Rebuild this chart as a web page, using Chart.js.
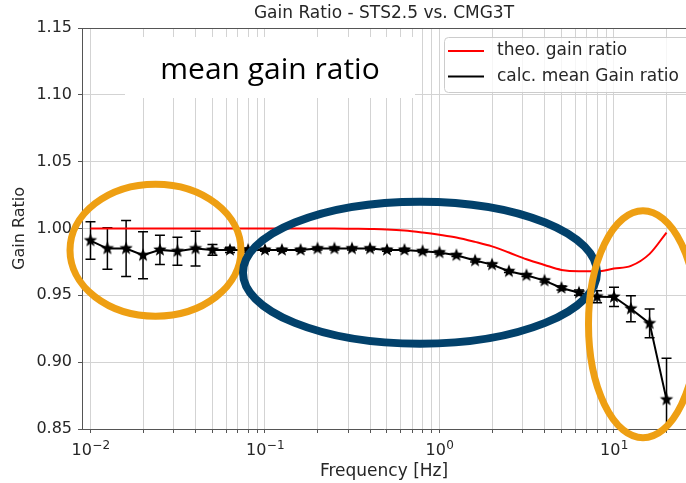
<!DOCTYPE html>
<html>
<head>
<meta charset="utf-8">
<script src="https://cdn.jsdelivr.net/npm/chart.js@4.4.1/dist/chart.umd.min.js"></script>
<style>
  html, body { margin: 0; padding: 0; background: #fff; }
  canvas { display: block; }
</style>
</head>
<body>
<canvas id="gainChart" width="686" height="483" style="width:686px;height:483px;"></canvas>
<script>
// third-octave centre frequencies [Hz]
var freqs = [0.01, 0.0125, 0.016, 0.02, 0.025, 0.0315, 0.04, 0.05, 0.063, 0.08,
             0.1, 0.125, 0.16, 0.2, 0.25, 0.315, 0.4, 0.5, 0.63, 0.8,
             1, 1.25, 1.6, 2, 2.5, 3.15, 4, 5, 6.3, 8,
             10, 12.5, 16, 20];

// theoretical STS2.5 / CMG3T gain ratio
var theoGain = [1.000, 1.000, 1.000, 1.000, 1.000, 1.000, 1.000, 1.000, 1.000, 1.000,
                1.000, 1.000, 1.000, 1.000, 1.000, 0.9998, 0.9996, 0.9993, 0.9985, 0.997,
                0.9953, 0.9933, 0.990, 0.9866, 0.982, 0.977, 0.9727, 0.969, 0.968, 0.968,
                0.970, 0.972, 0.981, 0.997];

// calculated mean gain ratio and its spread
var meanGain = [0.991, 0.985, 0.985, 0.980, 0.984, 0.983, 0.985, 0.984, 0.984, 0.984,
                0.984, 0.984, 0.984, 0.985, 0.985, 0.985, 0.985, 0.984, 0.984, 0.983,
                0.982, 0.980, 0.976, 0.973, 0.968, 0.965, 0.961, 0.9555, 0.952, 0.949,
                0.9488, 0.940, 0.929, 0.872];
var meanGainErr = [0.014, 0.0155, 0.021, 0.0175, 0.011, 0.0105, 0.013, 0.004, 0.002, 0.0015,
                   0.001, 0.001, 0.001, 0.001, 0.001, 0.001, 0.001, 0.001, 0.001, 0.001,
                   0.001, 0.001, 0.001, 0.001, 0.001, 0.001, 0.001, 0.0015, 0.002, 0.0045,
                   0.0072, 0.0097, 0.0107, 0.031];

var yTicks = [0.85, 0.90, 0.95, 1.00, 1.05, 1.10, 1.15];
var xDecades = [0.01, 0.1, 1, 10];
var decadeExps = ['\u22122', '\u22121', '0', '1'];

// highlighted frequency bands, in data units (freq range, gain range)
var highlights = [
  { f: [0.00763, 0.07286], g: [0.9344, 1.0331], color: '#EE9F13', width: 7 },
  { f: [0.0748, 7.99], g: [0.9138, 1.0201], color: '#02416B', width: 8 },
  { f: [7.143, 30.09], g: [0.8435, 1.0133], color: '#EE9F13', width: 7 }
];

// every 1..9 x 10^n inside the axis range
var xGridTicks = [];
xDecades.forEach(function (d) {
  for (var k = 1; k <= 9; k++) {
    var v = +(k * d).toPrecision(3);
    if (v <= 25.8) xGridTicks.push(v);
  }
});

// filled five-point star marker
function makeStar(r) {
  var c = document.createElement('canvas');
  var s = Math.ceil(r * 2 + 2);
  c.width = s; c.height = s;
  var g = c.getContext('2d');
  g.translate(s / 2, s / 2);
  g.beginPath();
  for (var i = 0; i < 10; i++) {
    var rad = i % 2 === 0 ? r : r * 0.42;
    var a = -Math.PI / 2 + i * Math.PI / 5;
    g.lineTo(rad * Math.cos(a), rad * Math.sin(a));
  }
  g.closePath();
  g.fillStyle = '#000';
  g.fill();
  return c;
}
var star = makeStar(7);

var FONT = 'DejaVu Sans';
var TXT = '#262626';

var decor = {
  id: 'decor',
  beforeDatasetsDraw: function (chart) {
    var ctx = chart.ctx, a = chart.chartArea;
    var xs = chart.scales.x, ys = chart.scales.y;
    ctx.save();
    // top spine
    ctx.strokeStyle = '#555';
    ctx.lineWidth = 1;
    ctx.beginPath();
    ctx.moveTo(a.left, a.top + 0.5);
    ctx.lineTo(a.right, a.top + 0.5);
    ctx.stroke();

    // decade labels as 10^n
    ctx.fillStyle = TXT;
    ctx.textBaseline = 'alphabetic';
    ctx.textAlign = 'left';
    xDecades.forEach(function (d, i) {
      var x = xs.getPixelForValue(d);
      ctx.font = '16px "' + FONT + '"';
      var w1 = ctx.measureText('10').width;
      ctx.font = '12px "' + FONT + '"';
      var w2 = ctx.measureText(decadeExps[i]).width;
      var x0 = x - (w1 + w2) / 2;
      ctx.font = '16px "' + FONT + '"';
      ctx.fillText('10', x0, a.bottom + 26);
      ctx.font = '12px "' + FONT + '"';
      ctx.fillText(decadeExps[i], x0 + w1 + 0.5, a.bottom + 19.5);
    });

    // text box
    ctx.fillStyle = '#fff';
    ctx.fillRect(a.left + 43, a.top + 9, 290, 61);
    ctx.fillStyle = '#000';
    ctx.font = '30px "Open Sans"';
    ctx.textAlign = 'center';
    ctx.fillText('mean gain ratio', a.left + 188, a.top + 51);

    // error bars
    ctx.beginPath();
    ctx.rect(a.left, a.top, a.right - a.left, a.bottom - a.top);
    ctx.clip();
    ctx.strokeStyle = '#000';
    ctx.lineWidth = 1.5;
    freqs.forEach(function (f, i) {
      var x = xs.getPixelForValue(f);
      var y1 = ys.getPixelForValue(meanGain[i] + meanGainErr[i]);
      var y2 = ys.getPixelForValue(meanGain[i] - meanGainErr[i]);
      ctx.beginPath();
      ctx.moveTo(x, y1); ctx.lineTo(x, y2);
      ctx.moveTo(x - 5, y1); ctx.lineTo(x + 5, y1);
      ctx.moveTo(x - 5, y2); ctx.lineTo(x + 5, y2);
      ctx.stroke();
    });
    ctx.restore();
  },
  afterDraw: function (chart) {
    var ctx = chart.ctx, a = chart.chartArea;
    var xs = chart.scales.x, ys = chart.scales.y;
    ctx.save();

    // legend
    var lx = a.left + 362, ly = a.top + 9;
    ctx.beginPath();
    ctx.roundRect(lx + 0.5, ly + 0.5, 300, 55, 4);
    ctx.fillStyle = 'rgba(255,255,255,0.8)';
    ctx.fill();
    ctx.strokeStyle = '#cccccc';
    ctx.lineWidth = 1;
    ctx.stroke();
    ctx.font = '17px "' + FONT + '"';
    ctx.textAlign = 'left';
    ctx.textBaseline = 'middle';
    chart.data.datasets.forEach(function (ds, i) {
      var yy = ly + 14 + i * 25.5;
      ctx.strokeStyle = ds.borderColor;
      ctx.lineWidth = 2;
      ctx.beginPath();
      ctx.moveTo(lx + 4, yy);
      ctx.lineTo(lx + 40, yy);
      ctx.stroke();
      ctx.fillStyle = TXT;
      ctx.fillText(ds.label, lx + 53, yy);
    });

    // highlight ellipses
    highlights.forEach(function (h) {
      var x0 = xs.getPixelForValue(h.f[0]), x1 = xs.getPixelForValue(h.f[1]);
      var y0 = ys.getPixelForValue(h.g[0]), y1 = ys.getPixelForValue(h.g[1]);
      ctx.beginPath();
      ctx.ellipse((x0 + x1) / 2, (y0 + y1) / 2, Math.abs(x1 - x0) / 2, Math.abs(y0 - y1) / 2, 0, 0, Math.PI * 2);
      ctx.strokeStyle = h.color;
      ctx.lineWidth = h.width;
      ctx.stroke();
    });
    ctx.restore();
  }
};

var chart = new Chart('gainChart', {
  type: 'line',
  data: {
    datasets: [
      {
        label: 'theo. gain ratio',
        data: freqs.map(function (f, i) { return { x: f, y: theoGain[i] }; }),
        borderColor: '#ff0000',
        borderWidth: 2,
        pointRadius: 0,
        cubicInterpolationMode: 'monotone',
        fill: false
      },
      {
        label: 'calc. mean Gain ratio',
        data: freqs.map(function (f, i) { return { x: f, y: meanGain[i] }; }),
        borderColor: '#000000',
        borderWidth: 2,
        pointStyle: star,
        pointRadius: 7,
        tension: 0,
        fill: false
      }
    ]
  },
  options: {
    responsive: false,
    animation: false,
    devicePixelRatio: 1,
    layout: { padding: 0, autoPadding: false },
    scales: {
      x: {
        type: 'logarithmic',
        min: 0.00894,
        max: 25.86,
        afterBuildTicks: function (s) {
          s.ticks = xGridTicks.map(function (v) { return { value: v }; });
        },
        afterFit: function (s) {
          s.height = 54;
          s.paddingLeft = 0;
          s.paddingRight = 0;
        },
        ticks: {
          autoSkip: false,
          maxRotation: 0,
          padding: 4,
          color: TXT,
          font: { family: FONT, size: 16 },
          callback: function () { return ''; }
        },
        grid: {
          color: '#d3d3d3',
          tickColor: '#555',
          tickLength: 4
        },
        border: { color: '#555', width: 1 },
        title: {
          display: true,
          text: 'Frequency [Hz]',
          color: TXT,
          font: { family: FONT, size: 17 },
          padding: { top: 0, bottom: 1 }
        }
      },
      y: {
        min: 0.85,
        max: 1.15,
        afterBuildTicks: function (s) {
          s.ticks = yTicks.map(function (v) { return { value: v }; });
        },
        afterFit: function (s) { s.width = 82; },
        ticks: {
          padding: 6,
          color: TXT,
          font: { family: FONT, size: 16 },
          callback: function (v) { return (+v).toFixed(2); }
        },
        grid: {
          color: '#d3d3d3',
          tickColor: '#555',
          tickLength: 4
        },
        border: { color: '#555', width: 1 },
        title: {
          display: true,
          text: 'Gain Ratio',
          color: TXT,
          font: { family: FONT, size: 16 },
          padding: { top: 10, bottom: 0 }
        }
      }
    },
    plugins: {
      legend: { display: false },
      tooltip: { enabled: false },
      title: {
        display: true,
        fullSize: false,
        text: 'Gain Ratio - STS2.5 vs. CMG3T',
        color: TXT,
        font: { family: FONT, size: 17, weight: 'normal' },
        padding: { top: 3, bottom: 4.6 }
      }
    }
  },
  plugins: [decor]
});
</script>
</body>
</html>
